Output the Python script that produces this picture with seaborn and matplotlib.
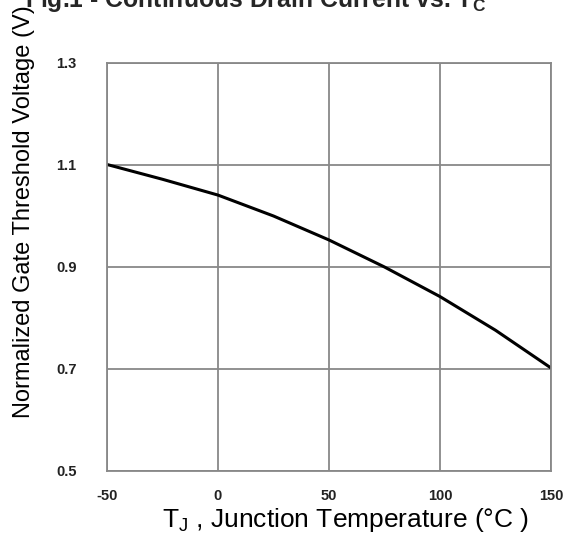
import matplotlib
matplotlib.use("Agg")
import matplotlib.pyplot as plt
import seaborn as sns
import pandas as pd

temperature = [-50, -25, 0, 25, 50, 75, 100, 125, 150]
voltage = [1.101, 1.072, 1.041, 1.000, 0.953, 0.900, 0.842, 0.776, 0.702]
x_ticks = [-50, 0, 50, 100, 150]
y_ticks = [0.5, 0.7, 0.9, 1.1, 1.3]

sns.set_style("white")
plt.rcParams['font.family'] = ['Liberation Sans', 'DejaVu Sans']

df = pd.DataFrame({"T": temperature, "V": voltage})

fig = plt.figure(figsize=(5.64, 5.37), dpi=100)
ax = fig.add_axes([107/564, 66/537, 444/564, 408/537])

sns.lineplot(data=df, x="T", y="V", ax=ax, color="black", linewidth=2.2)

ax.set_xlim(-50, 150)
ax.set_ylim(0.5, 1.3)
ax.set_xticks(x_ticks)
ax.set_yticks(y_ticks)
ax.set_xticklabels([str(t) for t in x_ticks], fontweight="bold", fontsize=10.5)
ax.set_yticklabels([f"{v:.1f}" for v in y_ticks], fontweight="bold", fontsize=10.5)
ax.tick_params(axis="both", length=0, colors="#222222")
ax.tick_params(axis="y", pad=22)
ax.tick_params(axis="x", pad=13)

ax.grid(True, color="#888888", linewidth=1.3)
for s in ax.spines.values():
    s.set_color("#888888")
    s.set_linewidth(1.3)

ax.set_xlabel(r"T$_\mathregular{J}$ , Junction Temperature (°C )", fontsize=19, color="black")
ax.xaxis.set_label_coords((346-107)/444, (471-527)/408)
ax.xaxis.label.set_va("baseline")

ax.set_ylabel("Normalized Gate Threshold Voltage (V)", fontsize=17, color="black")
ax.yaxis.set_label_coords((24-107)/444, (471-212)/408)
ax.yaxis.label.set_va("center")

fig.text(256/564, 1 - 7/537, r"Fig.1 - Continuous Drain Current vs. T$_\mathregular{C}$",
         ha="center", va="baseline", fontsize=17.8, fontweight="bold")

fig.savefig("out.png", dpi=100)
